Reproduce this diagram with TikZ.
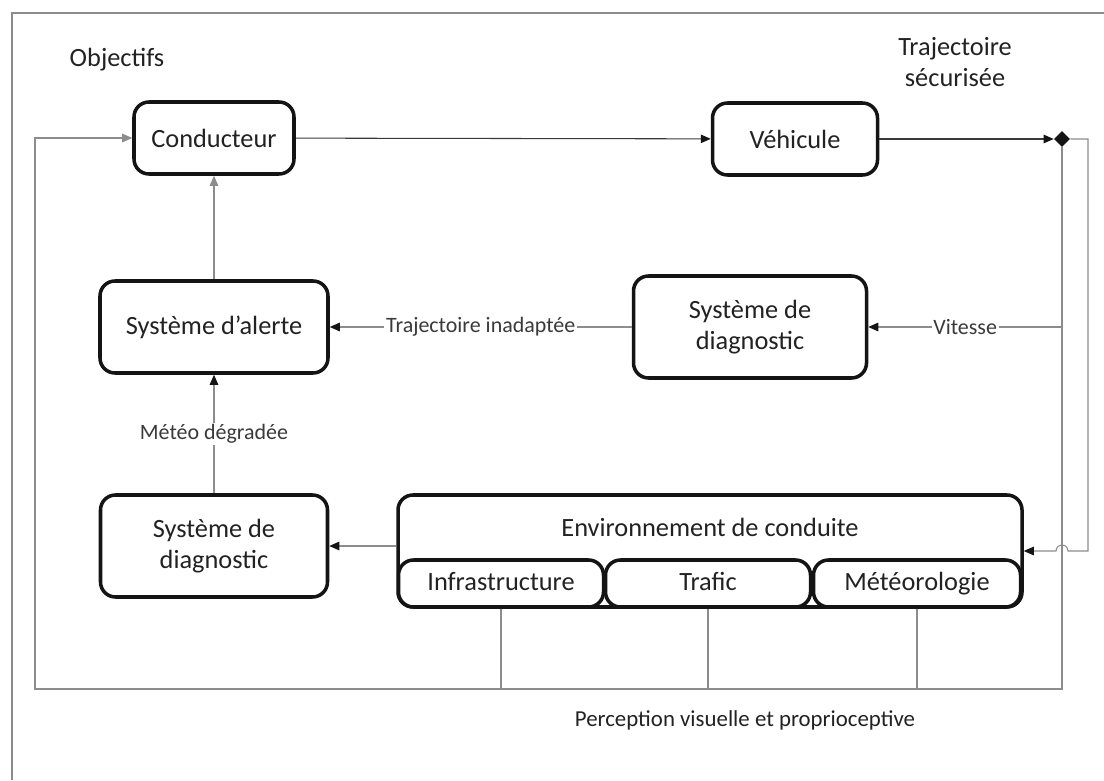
\documentclass[tikz,border=0pt]{standalone}
\usepackage{fontspec}
\setmainfont{Carlito}
\usepackage{xcolor}
\usepackage{tikz}
\usetikzlibrary{arrows.meta,shapes.geometric}
\definecolor{edge}{HTML}{141414}
\definecolor{line}{HTML}{3A3A3A}
\definecolor{soft}{HTML}{8C8C8C}
\definecolor{ink}{HTML}{222222}
\tikzset{
  blk/.style={draw=edge, line width=2pt, rounded corners=0.3cm, fill=white, align=center,
    text=ink, inner sep=0pt, font=\fontsize{15}{18}\selectfont},
  sub/.style={text height=11pt, text depth=3pt},
  txt/.style={text=ink, align=center, inner sep=1pt, font=\fontsize{15}{18}\selectfont},
  flow/.style={draw=line, line width=0.6pt, -{Triangle[length=2mm,width=1.7mm,color=edge]}},
  gflow/.style={flow, draw=soft},
  fb/.style={draw=soft, line width=0.6pt},
  fbarrow/.style={fb, -{Triangle[length=2mm,width=1.7mm,color=soft]}},
  lbl/.style={fill=white, inner sep=1pt, text=line, font=\fontsize{12.5}{15}\selectfont},
  junction/.style={diamond, fill=edge, inner sep=0pt, minimum size=0.32cm},
  frame/.style={draw=soft, line width=0.8pt}
}
\newcommand{\BlkNode}[7][]{% options,name,x,y,width,height,text
  \node[blk, #1, minimum width=#5*0.02cm, minimum height=#6*0.02cm] (#2) at (#3,#4) {#7};
}

\begin{document}
\begin{tikzpicture}[x=0.02cm, y=-0.02cm]
  \useasboundingbox (0,0) rectangle (1104,780);
  \draw[frame] (12,780) -- (12,13) -- (1104,13);

  % boxes
  \BlkNode{cond}{214}{138}{160}{72}{Conducteur}
  \BlkNode{veh}{795}{139}{165}{72}{Véhicule}
  \BlkNode{alert}{214}{327}{228}{92}{Système d’alerte}
  \BlkNode{diagR}{750}{327}{233}{102}{Système de\\diagnostic}
  \BlkNode{diagL}{214}{546}{227}{102}{Système de\\diagnostic}
  \BlkNode{env}{710}{551}{624}{112}{}
  \node[txt] (envt) at (710,527) {Environnement de conduite};
  \BlkNode[sub]{infra}{501}{583.5}{205}{47}{Infrastructure}
  \BlkNode[sub]{trafic}{708}{583.5}{205}{47}{Trafic}
  \BlkNode[sub]{meteo}{917}{583.5}{207}{47}{Météorologie}

  \node[txt] (obj) at (117,60) {Objectifs};
  \node[txt] (traj) at (955,62) {Trajectoire\\sécurisée};
  \node[txt, font=\fontsize{13}{16}\selectfont] (perc) at (745,720) {Perception visuelle et proprioceptive};

  \node[junction] (junc) at (1062,139) {};
  \coordinate (rtop) at (1088,139);
  \coordinate (rbot) at (1088,551);
  \coordinate (hop) at (1062,551);
  \coordinate (bR) at (1062,689);
  \coordinate (bL) at (35,689);
  \coordinate (tL) at (35,138);

  % connectors
  \draw[flow] (cond) -- (veh);
  \draw[flow] (veh) -- (junc);
  \draw[gflow] (junc.east) -- (rtop) -- (rbot) -- ([xshift=0.12cm]hop)
    arc[start angle=0, end angle=-180, radius=6] -- (env.east);
  \draw[fbarrow] (junc.south) -- (bR) -- (bL) -- (tL) -- (cond.west);
  \draw[gflow] (junc.south) |- (diagR.east) node[lbl, pos=0.75] {Vitesse};
  \foreach \n in {infra,trafic,meteo}
    \draw[fb] (\n.south) -- (\n.south |- bL);
  \draw[gflow] (diagR.west) -- (alert.east) node[lbl, midway] {Trajectoire inadaptée};
  \draw[gflow] (diagL) -- (alert) node[lbl, midway] {Météo dégradée};
  \draw[gflow] (env.west |- diagL) -- (diagL);
  \draw[fbarrow] (alert) -- (cond);
\end{tikzpicture}
\end{document}
